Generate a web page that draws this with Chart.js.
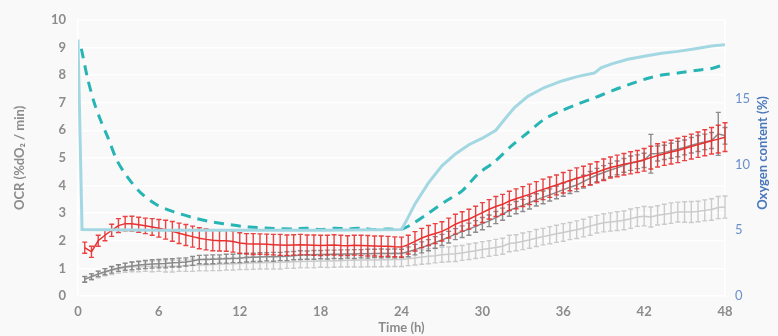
<!DOCTYPE html>
<html>
<head>
<meta charset="utf-8">
<script src="https://cdn.jsdelivr.net/npm/chart.js@4/dist/chart.umd.min.js"></script>
<style>
  html, body { margin: 0; padding: 0; background: #f9f9f9; }
  #wrap { width: 778px; height: 336px; }
</style>
</head>
<body>
<div id="wrap"><canvas id="ocrChart" width="778" height="336"></canvas></div>
<script>
// sample times (h) for the OCR series
const times = [0.5, 1, 1.5, 2, 2.5, 3, 3.5, 4, 4.5, 5, 5.5, 6,
  6.5, 7, 7.5, 8, 8.5, 9, 9.5, 10, 10.5, 11, 11.5, 12,
  12.5, 13, 13.5, 14, 14.5, 15, 15.5, 16, 16.5, 17, 17.5, 18,
  18.5, 19, 19.5, 20, 20.5, 21, 21.5, 22, 22.5, 23, 23.5, 24,
  24.5, 25, 25.5, 26, 26.5, 27, 27.5, 28, 28.5, 29, 29.5, 30,
  30.5, 31, 31.5, 32, 32.5, 33, 33.5, 34, 34.5, 35, 35.5, 36,
  36.5, 37, 37.5, 38, 38.5, 39, 39.5, 40, 40.5, 41, 41.5, 42,
  42.5, 43, 43.5, 44, 44.5, 45, 45.5, 46, 46.5, 47, 47.5, 48];

// OCR (%dO2 / min), left axis
const ocrRed = [1.75, 1.60, 2.00, 2.20, 2.38, 2.55, 2.62, 2.62, 2.58, 2.54, 2.50, 2.45,
  2.40, 2.34, 2.27, 2.21, 2.15, 2.09, 2.05, 2.02, 2.00, 2.00, 1.97, 1.92,
  1.89, 1.88, 1.88, 1.87, 1.86, 1.85, 1.84, 1.85, 1.86, 1.85, 1.84, 1.83,
  1.84, 1.85, 1.83, 1.82, 1.84, 1.83, 1.82, 1.81, 1.80, 1.80, 1.78, 1.77,
  1.86, 1.98, 2.10, 2.19, 2.26, 2.34, 2.46, 2.60, 2.70, 2.78, 2.90, 3.02,
  3.14, 3.24, 3.32, 3.44, 3.52, 3.60, 3.68, 3.78, 3.86, 3.94, 4.02, 4.10,
  4.18, 4.26, 4.33, 4.40, 4.48, 4.57, 4.65, 4.71, 4.77, 4.82, 4.87, 4.93,
  5.01, 5.09, 5.15, 5.21, 5.27, 5.34, 5.41, 5.48, 5.55, 5.62, 5.68, 5.75];
const ocrRedErr = [0.20, 0.20, 0.20, 0.20, 0.22, 0.25, 0.26, 0.27, 0.27, 0.28, 0.30, 0.32,
  0.34, 0.36, 0.37, 0.38, 0.38, 0.38, 0.38, 0.38, 0.37, 0.38, 0.38, 0.37,
  0.37, 0.38, 0.37, 0.37, 0.37, 0.38, 0.37, 0.37, 0.37, 0.36, 0.37, 0.37,
  0.36, 0.37, 0.37, 0.36, 0.36, 0.37, 0.37, 0.36, 0.37, 0.36, 0.36, 0.36,
  0.34, 0.35, 0.35, 0.36, 0.36, 0.35, 0.36, 0.36, 0.35, 0.36, 0.35, 0.36,
  0.35, 0.36, 0.36, 0.35, 0.36, 0.36, 0.37, 0.36, 0.37, 0.37, 0.36, 0.37,
  0.37, 0.38, 0.37, 0.38, 0.38, 0.39, 0.38, 0.39, 0.39, 0.40, 0.40, 0.41,
  0.41, 0.42, 0.42, 0.43, 0.44, 0.44, 0.45, 0.46, 0.47, 0.48, 0.50, 0.52];

const ocrDark = [0.60, 0.70, 0.80, 0.88, 0.95, 1.01, 1.06, 1.09, 1.12, 1.14, 1.16, 1.17,
  1.18, 1.20, 1.21, 1.23, 1.27, 1.32, 1.32, 1.33, 1.34, 1.35, 1.36, 1.37,
  1.39, 1.40, 1.41, 1.42, 1.42, 1.43, 1.44, 1.46, 1.48, 1.48, 1.49, 1.50,
  1.50, 1.51, 1.51, 1.52, 1.52, 1.53, 1.53, 1.54, 1.54, 1.54, 1.54, 1.54,
  1.60, 1.68, 1.76, 1.84, 1.94, 2.03, 2.13, 2.24, 2.33, 2.42, 2.52, 2.62,
  2.72, 2.84, 2.96, 3.10, 3.20, 3.28, 3.38, 3.48, 3.57, 3.66, 3.75, 3.85,
  3.94, 4.02, 4.14, 4.27, 4.38, 4.47, 4.56, 4.64, 4.73, 4.81, 4.86, 4.91,
  5.15, 5.16, 5.20, 5.26, 5.32, 5.38, 5.46, 5.52, 5.58, 5.63, 5.87, 5.80];
const ocrDarkErr = [0.10, 0.10, 0.10, 0.11, 0.12, 0.12, 0.13, 0.14, 0.14, 0.15, 0.15, 0.15,
  0.16, 0.15, 0.16, 0.15, 0.16, 0.15, 0.16, 0.16, 0.15, 0.16, 0.15, 0.16,
  0.16, 0.15, 0.16, 0.15, 0.16, 0.15, 0.16, 0.15, 0.16, 0.15, 0.16, 0.15,
  0.16, 0.15, 0.16, 0.15, 0.16, 0.15, 0.16, 0.15, 0.16, 0.15, 0.16, 0.15,
  0.18, 0.19, 0.20, 0.20, 0.21, 0.20, 0.21, 0.20, 0.21, 0.22, 0.21, 0.22,
  0.21, 0.22, 0.22, 0.21, 0.22, 0.22, 0.23, 0.22, 0.23, 0.22, 0.23, 0.24,
  0.23, 0.24, 0.23, 0.24, 0.24, 0.25, 0.24, 0.25, 0.25, 0.26, 0.25, 0.26,
  0.70, 0.27, 0.26, 0.27, 0.28, 0.27, 0.28, 0.29, 0.28, 0.29, 0.78, 0.30];

const ocrLight = [0.62, 0.70, 0.78, 0.86, 0.92, 0.98, 1.02, 1.05, 1.06, 1.07, 1.07, 1.08,
  1.07, 1.08, 1.09, 1.10, 1.11, 1.12, 1.13, 1.14, 1.15, 1.16, 1.17, 1.18,
  1.19, 1.20, 1.20, 1.21, 1.21, 1.22, 1.23, 1.24, 1.25, 1.26, 1.26, 1.27,
  1.27, 1.28, 1.28, 1.29, 1.29, 1.30, 1.30, 1.30, 1.31, 1.31, 1.32, 1.32,
  1.35, 1.38, 1.41, 1.44, 1.46, 1.49, 1.51, 1.53, 1.56, 1.60, 1.64, 1.68,
  1.72, 1.76, 1.80, 1.90, 1.93, 1.98, 2.03, 2.10, 2.15, 2.20, 2.25, 2.30,
  2.35, 2.40, 2.46, 2.53, 2.60, 2.65, 2.68, 2.71, 2.74, 2.80, 2.86, 2.89,
  2.86, 2.92, 2.96, 3.00, 3.04, 3.04, 3.04, 3.06, 3.10, 3.13, 3.20, 3.22];
const ocrLightErr = [0.10, 0.11, 0.12, 0.13, 0.14, 0.15, 0.16, 0.17, 0.18, 0.18, 0.19, 0.19,
  0.20, 0.21, 0.20, 0.21, 0.22, 0.21, 0.22, 0.22, 0.23, 0.22, 0.23, 0.22,
  0.23, 0.23, 0.22, 0.23, 0.23, 0.24, 0.23, 0.24, 0.23, 0.24, 0.24, 0.23,
  0.24, 0.24, 0.23, 0.24, 0.24, 0.25, 0.24, 0.24, 0.25, 0.24, 0.25, 0.25,
  0.25, 0.26, 0.26, 0.27, 0.26, 0.27, 0.27, 0.28, 0.27, 0.28, 0.28, 0.29,
  0.28, 0.29, 0.29, 0.30, 0.29, 0.30, 0.30, 0.31, 0.30, 0.31, 0.31, 0.32,
  0.31, 0.32, 0.32, 0.33, 0.32, 0.33, 0.33, 0.34, 0.34, 0.35, 0.34, 0.35,
  0.36, 0.35, 0.36, 0.37, 0.36, 0.37, 0.38, 0.37, 0.38, 0.39, 0.40, 0.40];

// Oxygen content (%), right axis
const o2SolidTime = [0, 0.3, 6, 12, 18, 24, 24.3, 25, 26, 27, 28, 29, 30, 31, 31.7, 32.4,
  33.4, 34.6, 35.9, 37.1, 38.3, 38.8, 39.6, 40.8, 42.1, 43.3, 44.5, 45.8, 47, 48];
const o2Solid = [19.5, 5.05, 5.0, 5.0, 5.0, 5.05, 5.6, 7.0, 8.6, 9.9, 10.8, 11.5, 12.0, 12.6, 13.5, 14.35,
  15.2, 15.85, 16.35, 16.7, 16.95, 17.35, 17.65, 18.0, 18.25, 18.45, 18.6, 18.8, 19.0, 19.1];

const o2DashTime = [0.25, 0.7, 1.2, 1.7, 2.2, 2.9, 3.7, 4.7, 5.9, 7.1, 8.4, 9.6, 10.8, 12.1, 13.3,
  14.5, 16, 17, 18, 19, 20, 21, 22, 23, 23.9, 24.75, 26, 27.2, 28.5, 29.7, 30.9, 32.2,
  33.4, 34.6, 35.9, 37.1, 38.4, 39.6, 40.8, 42.1, 43.3, 44.5, 45.8, 47, 47.8];
const o2Dash = [18.8, 16.6, 14.7, 13.3, 12.1, 10.3, 9.0, 7.8, 6.9, 6.4, 6.0, 5.7, 5.5, 5.3, 5.2,
  5.13, 5.1, 5.15, 5.05, 5.15, 5.1, 5.15, 5.05, 5.1, 5.05, 5.45, 6.3, 7.15, 8.0, 9.3, 10.2, 11.45,
  12.45, 13.45, 14.1, 14.6, 15.1, 15.6, 16.05, 16.5, 16.8, 16.95, 17.15, 17.3, 17.55];

const xTicks = [0, 6, 12, 18, 24, 30, 36, 42, 48];

const pts = (xs, ys) => xs.map((x, i) => ({ x: x, y: ys[i] }));

// draws the error bars under each OCR line
const errorBars = {
  id: 'errorBars',
  beforeDatasetDraw(chart, args) {
    const ds = chart.data.datasets[args.index];
    if (!ds.errors) return;
    const ctx = chart.ctx;
    const xs = chart.scales.x;
    const ys = chart.scales[ds.yAxisID];
    ctx.save();
    ctx.strokeStyle = ds.errorColor;
    ctx.lineWidth = 1.4;
    ds.data.forEach((p, i) => {
      const e = ds.errors[i];
      const x = xs.getPixelForValue(p.x);
      const top = ys.getPixelForValue(p.y + e);
      const bot = ys.getPixelForValue(p.y - e);
      ctx.beginPath();
      ctx.moveTo(x, top); ctx.lineTo(x, bot);
      ctx.moveTo(x - 2.5, top); ctx.lineTo(x + 2.5, top);
      ctx.moveTo(x - 2.5, bot); ctx.lineTo(x + 2.5, bot);
      ctx.stroke();
    });
    ctx.restore();
  }
};

// right axis title reads bottom-to-top like the left one
const rightTitle = {
  id: 'rightTitle',
  afterDraw(chart) {
    const ctx = chart.ctx;
    const area = chart.chartArea;
    ctx.save();
    ctx.translate(763, (area.top + area.bottom) / 2 - 5);
    ctx.rotate(-Math.PI / 2);
    ctx.font = 'bold 13px Lato';
    ctx.fillStyle = '#4a78bb';
    ctx.textAlign = 'center';
    ctx.textBaseline = 'middle';
    ctx.fillText('Oxygen content (%)', 0, 0);
    ctx.restore();
  }
};

new Chart(document.getElementById('ocrChart'), {
  type: 'line',
  data: {
    datasets: [
      {
        label: 'Oxygen solid',
        data: pts(o2SolidTime, o2Solid),
        yAxisID: 'y2',
        borderColor: '#a3d8e3',
        borderWidth: 3,
        pointRadius: 0
      },
      {
        label: 'Oxygen dashed',
        data: pts(o2DashTime, o2Dash),
        yAxisID: 'y2',
        borderColor: '#27b4b4',
        borderWidth: 3,
        borderDash: [10, 7],
        pointRadius: 0,
        tension: 0.3
      },
      {
        label: 'OCR red',
        data: pts(times, ocrRed),
        errors: ocrRedErr,
        errorColor: 'rgba(232, 45, 45, 0.9)',
        yAxisID: 'y',
        borderColor: '#e8302f',
        borderWidth: 1.5,
        pointRadius: 0
      },
      {
        label: 'OCR dark',
        data: pts(times, ocrDark),
        errors: ocrDarkErr,
        errorColor: 'rgba(128, 128, 128, 0.9)',
        yAxisID: 'y',
        borderColor: '#8a8a8a',
        borderWidth: 1.5,
        pointRadius: 0
      },
      {
        label: 'OCR light',
        data: pts(times, ocrLight),
        errors: ocrLightErr,
        errorColor: 'rgba(200, 200, 200, 0.95)',
        yAxisID: 'y',
        borderColor: '#cbcbcb',
        borderWidth: 1.5,
        pointRadius: 0
      }
    ]
  },
  options: {
    responsive: false,
    animation: false,
    layout: { padding: { top: 19, left: 0, right: 0, bottom: 0 } },
    plugins: { legend: { display: false }, tooltip: { enabled: false } },
    scales: {
      x: {
        type: 'linear',
        min: 0,
        max: 48,
        afterBuildTicks: axis => { axis.ticks = xTicks.map(v => ({ value: v })); },
        afterFit: axis => { axis.height = 40; },
        grid: { display: false, drawTicks: false },
        border: { display: false },
        ticks: { color: '#8c8c8c', font: { family: 'Lato', size: 13, weight: 'bold' }, padding: 8, maxRotation: 0 },
        title: { display: true, text: 'Time (h)', color: '#8c8c8c', font: { family: 'Lato', size: 13, weight: 'bold' }, padding: { top: 0, bottom: 0 } }
      },
      y: {
        position: 'left',
        min: 0,
        max: 10,
        afterFit: axis => { axis.width = 78; },
        grid: { color: '#ffffff', lineWidth: 1.5, drawTicks: false },
        border: { display: true, color: '#ffffff', width: 1.5 },
        ticks: { stepSize: 1, color: '#8c8c8c', font: { family: 'Lato', size: 13, weight: 'bold' }, padding: 12 },
        title: { display: true, text: 'OCR (%dO\u2082 / min)', color: '#8c8c8c', font: { family: 'Lato', size: 13, weight: 'bold' }, padding: { top: 12, bottom: 0 } }
      },
      y2: {
        position: 'right',
        min: 0,
        max: 21,
        afterBuildTicks: axis => { axis.ticks = axis.ticks.filter(t => t.value % 5 === 0); },
        afterFit: axis => { axis.width = 53; },
        grid: { display: false, drawTicks: false },
        border: { display: true, color: '#ffffff', width: 1.5 },
        ticks: { stepSize: 5, color: '#6a8fcc', font: { family: 'Lato', size: 13 }, padding: 10 }
      }
    }
  },
  plugins: [errorBars, rightTitle]
});
</script>
</body>
</html>
